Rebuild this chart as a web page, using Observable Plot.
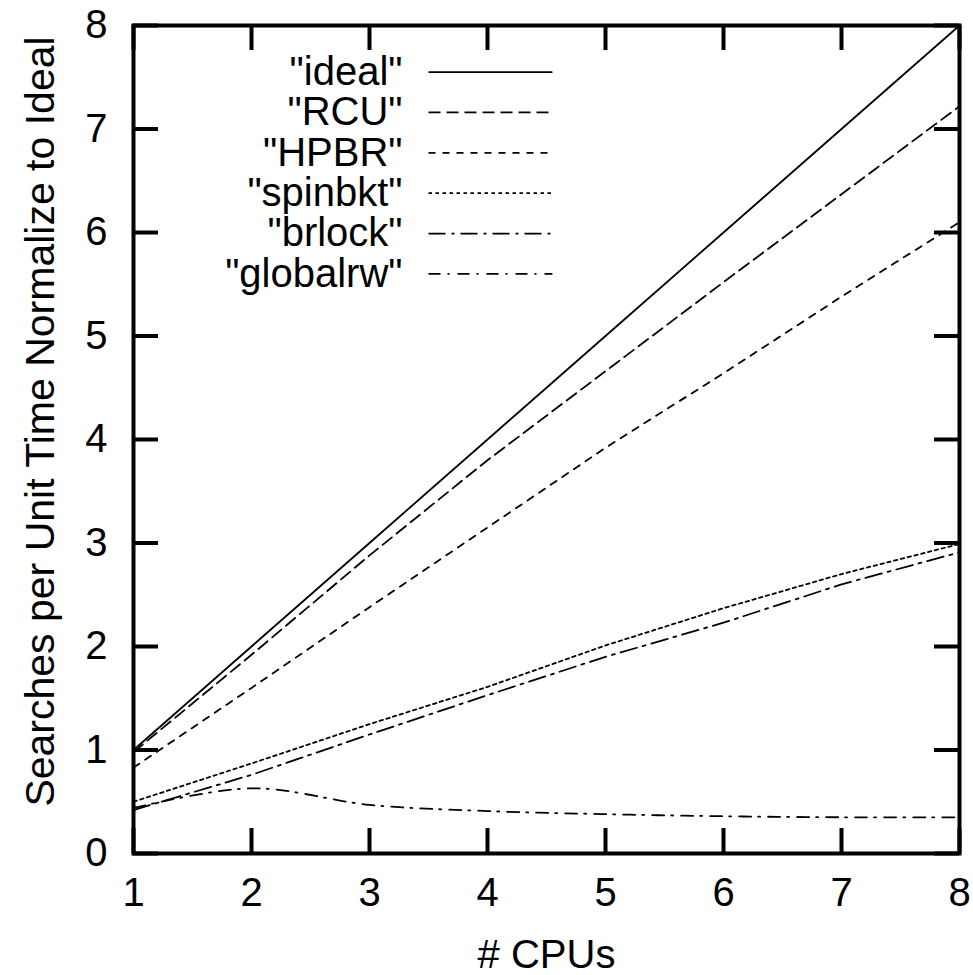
<!DOCTYPE html>
<html>
<head>
<meta charset="utf-8">
<script src="https://cdn.jsdelivr.net/npm/d3@7"></script>
<script src="https://cdn.jsdelivr.net/npm/@observablehq/plot@0.6"></script>
<style>
  html, body { margin: 0; padding: 0; background: #fff; }
  #chart svg { display: block; }
</style>
</head>
<body>
<div id="chart"></div>
<script>
// ---- data ----
const cpus = [1, 2, 3, 4, 5, 6, 7, 8];
const seriesNames = ['"ideal"', '"RCU"', '"HPBR"', '"spinbkt"', '"brlock"', '"globalrw"'];
const ideal    = [1, 2, 3, 4, 5, 6, 7, 8];
const rcu      = [0.98, 1.92, 2.88, 3.80, 4.66, 5.52, 6.37, 7.22];
const hpbr     = [0.83, 1.60, 2.38, 3.15, 3.92, 4.64, 5.38, 6.10];
const spinbkt  = [0.50, 0.87, 1.25, 1.61, 2.01, 2.37, 2.70, 2.99];
const brlock   = [0.42, 0.76, 1.15, 1.53, 1.90, 2.23, 2.60, 2.91];
const globalrw = [0.44, 0.63, 0.47, 0.41, 0.38, 0.36, 0.35, 0.35];
const xTicks = [1, 2, 3, 4, 5, 6, 7, 8];
const yTicks = [0, 1, 2, 3, 4, 5, 6, 7, 8];
const xLabel = "# CPUs";
const yLabel = "Searches per Unit Time Normalize to Ideal";

// ---- styles ----
const dashes = ["none", "12,6", "7,7", "3.5,3.5", "17,6,3,6", "12,7,2,8"];
const seriesValues = [ideal, rcu, hpbr, spinbkt, brlock, globalrw];
const rows = [];
seriesValues.forEach((vals, s) => vals.forEach((v, i) => rows.push({series: s, x: cpus[i], y: v})));

const W = 973, H = 975;
const mL = 133, mR = 14, mT = 25, mB = 122;
const innerW = W - mL - mR, innerH = H - mT - mB;
const tickLen = 25;
const font = "'Liberation Sans', Arial, Helvetica, sans-serif";
const fs = 40;

// legend layout (in data units)
const legendTop = 7.55, legendStep = 0.39;
const legendTextX = 3.28, legendX1 = 3.5, legendX2 = 4.55;
const legend = seriesNames.map((name, i) => ({name, i, y: legendTop - i * legendStep}));

const lineMarks = seriesValues.map((vals, s) =>
  Plot.line(rows.filter(d => d.series === s), {
    x: "x", y: "y", stroke: "black", strokeWidth: 1.8,
    strokeDasharray: dashes[s], curve: s === 5 ? "catmull-rom" : "linear"
  })
);
const legendLines = legend.map(d =>
  Plot.link([d], {x1: () => legendX1, x2: () => legendX2, y1: "y", y2: "y",
    stroke: "black", strokeWidth: 1.8, strokeDasharray: dashes[d.i]})
);

const chart = Plot.plot({
  width: W, height: H,
  marginLeft: mL, marginRight: mR, marginTop: mT, marginBottom: mB,
  style: {fontFamily: font, fontSize: fs + "px", background: "white", color: "black"},
  x: {domain: [1, 8]},
  y: {domain: [0, 8]},
  marks: [
    ...lineMarks,
    ...legendLines,
    Plot.text(legend, {x: () => legendTextX, y: "y", text: "name", textAnchor: "end",
      fontSize: fs, fill: "black"}),
    // inward ticks on all four sides
    Plot.tickX(xTicks, {x: d => d, insetTop: innerH - tickLen, stroke: "black", strokeWidth: 4}),
    Plot.tickX(xTicks, {x: d => d, insetBottom: innerH - tickLen, stroke: "black", strokeWidth: 4}),
    Plot.tickY(yTicks, {y: d => d, insetRight: innerW - tickLen, stroke: "black", strokeWidth: 4}),
    Plot.tickY(yTicks, {y: d => d, insetLeft: innerW - tickLen, stroke: "black", strokeWidth: 4}),
    Plot.axisX({ticks: xTicks, tickSize: 0, tickPadding: 24, tickFormat: d => String(d), label: null, fontSize: fs}),
    Plot.axisY({ticks: yTicks, tickSize: 0, tickPadding: 26, tickFormat: d => String(d), label: null, fontSize: fs}),
    Plot.text([xLabel], {frameAnchor: "bottom", dy: 102, text: d => d, lineAnchor: "middle", textAnchor: "middle", fontSize: fs, fill: "black"}),
    Plot.text([yLabel], {frameAnchor: "left", dx: -93, dy: -18, rotate: -90, text: d => d, lineAnchor: "middle", textAnchor: "middle", fontSize: 41, fill: "black"}),
    Plot.frame({stroke: "black", strokeWidth: 4})
  ]
});
document.getElementById("chart").appendChild(chart);
</script>
</body>
</html>
